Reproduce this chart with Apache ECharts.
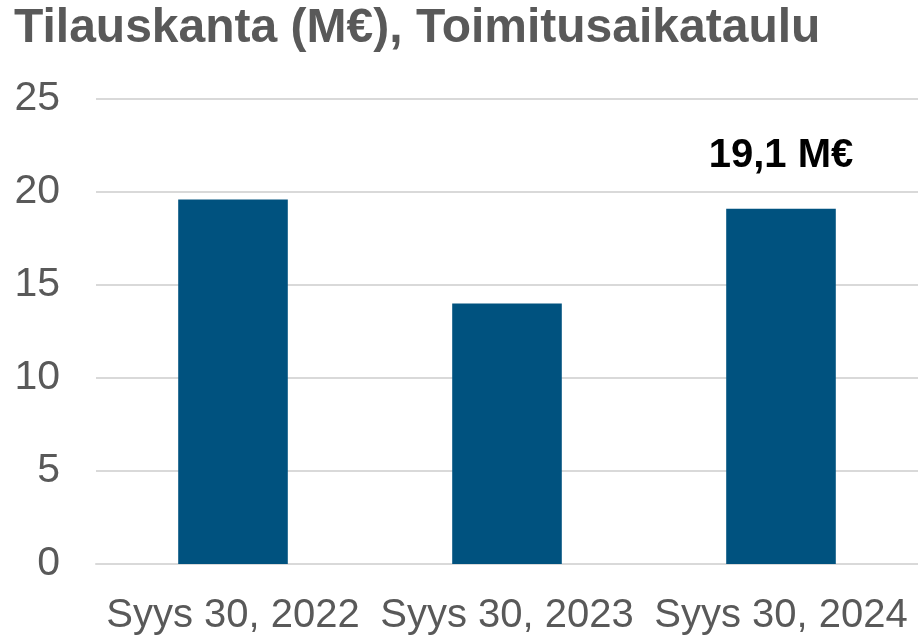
<!DOCTYPE html>
<html><head><meta charset="utf-8">
<script src="https://cdn.jsdelivr.net/npm/echarts@6/dist/echarts.min.js"></script>
<style>html,body{margin:0;padding:0;background:#fff}#c{width:918px;height:641px}</style>
</head><body><div id="c"></div>
<script>
const categories = ["Syys 30, 2022", "Syys 30, 2023", "Syys 30, 2024"];
const values = [19.6, 14.0, 19.1];
const labels = ["", "", "19,1 M€"];
const yTicks = { min: 0, max: 25, interval: 5 };

const chart = echarts.init(document.getElementById('c'));
chart.setOption({
  animation: false,
  title: {
    text: "Tilauskanta (M€), Toimitusaikataulu",
    left: 9, top: 0,
    textStyle: { fontFamily: "Liberation Sans", fontWeight: "bold", fontSize: 48, color: "#595959" }
  },
  grid: { left: 96, right: -3, top: 99, bottom: 77, containLabel: false },
  xAxis: {
    type: "category", data: categories,
    axisLine: { lineStyle: { color: "#d9d9d9", width: 2 } },
    axisTick: { show: false },
    axisLabel: { interval: 0, hideOverlap: false, fontFamily: "Liberation Sans", fontSize: 40, color: "#595959", margin: 32 }
  },
  yAxis: {
    type: "value", min: yTicks.min, max: yTicks.max, interval: yTicks.interval,
    axisLine: { show: false }, axisTick: { show: false },
    splitLine: { lineStyle: { color: "#d9d9d9", width: 2 } },
    axisLabel: { fontFamily: "Liberation Sans", fontSize: 41, color: "#595959", margin: 36 }
  },
  series: [{
    type: "bar", data: values, barWidth: "40%",
    itemStyle: { color: "#00527F" },
    label: {
      show: true, position: "top", distance: 33,
      formatter: p => labels[p.dataIndex],
      fontFamily: "Liberation Sans", fontWeight: "bold", fontSize: 40, color: "#000"
    }
  }]
});
</script></body></html>
